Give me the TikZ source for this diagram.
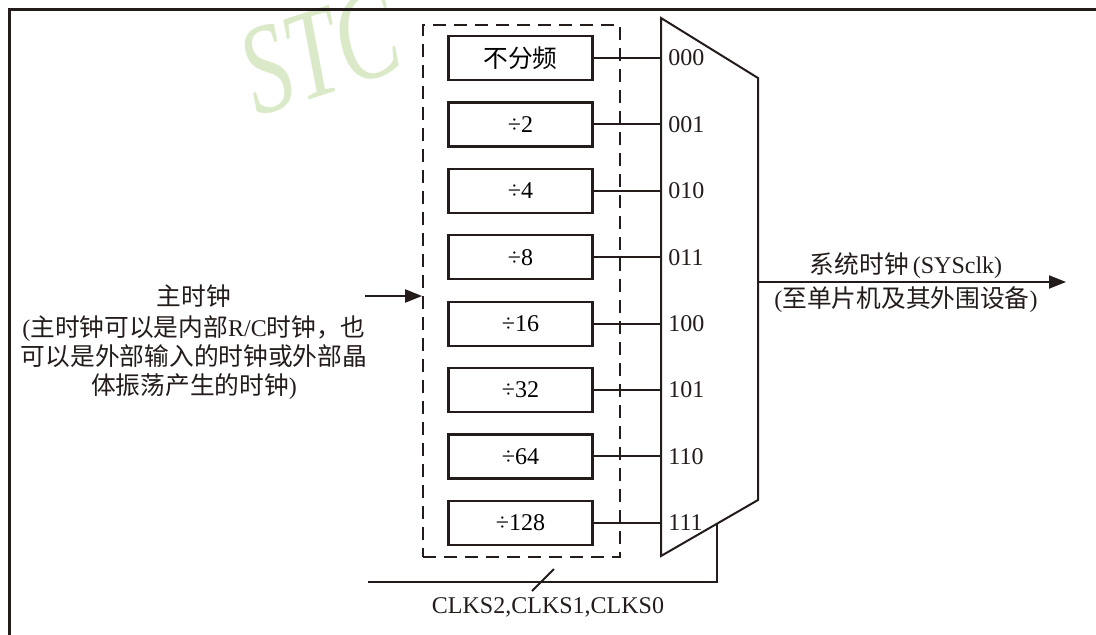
\documentclass[tikz,border=0pt]{standalone}
\usepackage{fontspec}
\setmainfont{Liberation Serif}
\newfontfamily\cjk{Noto Sans CJK SC}[Scale=1.03]
\usetikzlibrary{arrows.meta,calc}
\definecolor{wm}{RGB}{218,234,200}
\definecolor{ink}{RGB}{35,28,26}
\tikzset{
  divbox/.style={draw=ink, line width=1.1pt, minimum width=72pt, minimum height=22pt, inner sep=0pt, font=\fontsize{12}{14}\selectfont},
  wire/.style={draw=ink, line width=1pt},
  dashbox/.style={draw=ink, line width=0.9pt, dash pattern=on 6.5pt off 4pt, minimum width=98.5pt, minimum height=266pt, inner sep=0pt},
  sellabel/.style={anchor=west, inner sep=0pt, font=\fontsize{12}{14}\selectfont, text=ink},
  txt/.style={inner sep=0pt, text=ink, font=\fontsize{12}{14.6}\selectfont},
  arr/.style={-{Triangle[length=8.5pt,width=6.5pt]}},
}
\begin{document}
\begin{tikzpicture}[x=0.5pt,y=-0.5pt]
\useasboundingbox (0,0) rectangle (1096,634);
% watermark
\node[text=wm, font=\fontsize{64}{64}\selectfont\itshape, rotate=18, xscale=0.72, inner sep=0pt] (wmark) at (320,52) {STC};
% frame
\draw[draw=ink, line width=1.5pt] (9,640) -- (9,9) -- (1100,9);
% dashed group
\node[dashbox] (grp) at (521.5,291) {};
% divider boxes
\foreach \t [count=\i from 0] in {{\cjk 不分频},÷2,÷4,÷8,÷16,÷32,÷64,÷128}{
  \node[divbox] (b\i) at (520.5,{58+66.4*\i}) {\t};
}
% mux
\coordinate (mtl) at (661,18);
\coordinate (mtr) at (758,78);
\coordinate (mbr) at (758,500);
\coordinate (mbl) at (661,556);
\draw[wire] (mtl) -- (mtr) -- (mbr) -- (mbl) -- cycle;
\foreach \l [count=\i from 0] in {000,001,010,011,100,101,110,111}{
  \draw[wire] (b\i.east) -- (b\i.east -| mtl);
  \node[sellabel] (s\i) at (668,{58+66.4*\i}) {\l};
}
% output
\coordinate (outS) at (758,282);
\coordinate (outE) at (1066,282);
\draw[wire, arr] (outS) -- (outE);
\node[txt] (outl1) at (906,266) {\cjk 系统时钟\,{\rmfamily(SYSclk)}};
\node[txt] (outl2) at (906,300) {(\cjk 至单片机及其外围设备\rmfamily)};
% input
\coordinate (inS) at (365,296);
\draw[wire, arr] (inS) -- (inS -| grp.west);
\node[txt, align=center] (inl) at (194,342) {\cjk 主时钟\\[1pt]
{\rmfamily(}\cjk 主时钟可以是内部{\rmfamily R/C}时钟，也\\
\cjk 可以是外部输入的时钟或外部晶\\
\cjk 体振荡产生的时钟{\rmfamily)}};
% select
\coordinate (selS) at (368,582);
\coordinate (selC) at (717,582);
\coordinate (selE) at ($(mbl)!0.577!(mbr)$);
\draw[wire] (selS) -- (selC) -- (selC |- selE);
\coordinate (sl1) at (532,591);
\coordinate (sl2) at (554,569);
\draw[wire] (sl1) -- (sl2);
\node[txt] (sell) at (548,607) {CLKS2,CLKS1,CLKS0};
\end{tikzpicture}
\end{document}
